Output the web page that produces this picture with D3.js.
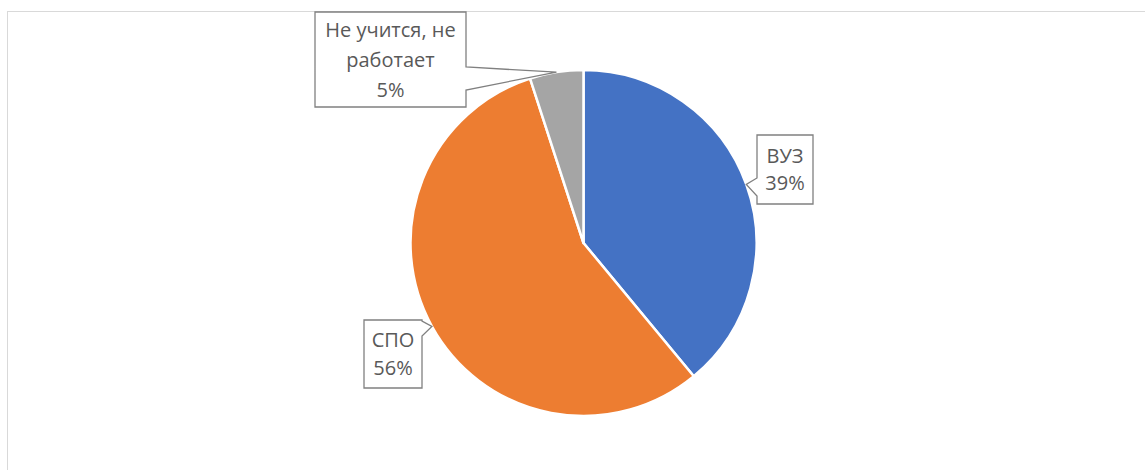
<!DOCTYPE html>
<html>
<head>
<meta charset="utf-8">
<script src="https://cdn.jsdelivr.net/npm/d3@7"></script>
<style>
  body { margin: 0; background: #fff; }
  svg { display: block; }
</style>
</head>
<body>
<svg id="chart" width="1145" height="470"></svg>
<script>
// data
const categories = ["ВУЗ", "СПО", "Не учится, не работает"];
const values = [39, 56, 5];
const colors = ["#4472c4", "#ed7d31", "#a5a5a5"];
// label text lines (category wrapped + percent)
const labelLines = [["ВУЗ"], ["СПО"], ["Не учится, не", "работает"]];

const svg = d3.select("#chart");
const cx = 583.5, cy = 243, radius = 173;

// chart frame (cut off at right/bottom like the source)
svg.append("rect")
  .attr("x", 7.5).attr("y", 11.5)
  .attr("width", 1200).attr("height", 500)
  .attr("fill", "none")
  .attr("stroke", "#d9d9d9");

const pie = d3.pie().sort(null).value(d => d)(values);
const arc = d3.arc().innerRadius(0).outerRadius(radius);

const g = svg.append("g").attr("transform", `translate(${cx},${cy})`);
g.selectAll("path.slice")
  .data(pie)
  .enter()
  .append("path")
  .attr("class", "slice")
  .attr("d", arc)
  .attr("fill", (d, i) => colors[i])
  .attr("stroke", "#fff")
  .attr("stroke-width", 2.5)
  .attr("stroke-linejoin", "round");

// callout layout: box rect, side of wedge, wedge base span
const layout = [
  { x0: 757, y0: 135, x1: 813, y1: 204, side: "left", w0: 178, w1: 196, lh: 27 },
  { x0: 364, y0: 320, x1: 422, y1: 388, side: "right", w0: 321, w1: 336, lh: 28 },
  { x0: 315, y0: 12, x1: 466, y1: 107, side: "right", w0: 67, w1: 90, lh: 30 },
];

function calloutPath(b, tx, ty) {
  const p = [];
  p.push([b.x0, b.y0]);
  p.push([b.x1, b.y0]);
  if (b.side === "right") {
    p.push([b.x1, b.w0], [tx, ty], [b.x1, b.w1]);
  }
  p.push([b.x1, b.y1]);
  p.push([b.x0, b.y1]);
  if (b.side === "left") {
    p.push([b.x0, b.w1], [tx, ty], [b.x0, b.w0]);
  }
  return "M" + p.map(q => q.join(",")).join("L") + "Z";
}

const fmt = d3.format(".0%");
const total = d3.sum(values);

pie.forEach((d, i) => {
  const b = layout[i];
  const mid = (d.startAngle + d.endAngle) / 2;
  const tx = cx + radius * Math.sin(mid);
  const ty = cy - radius * Math.cos(mid);

  svg.append("path")
    .attr("d", calloutPath(b, tx, ty))
    .attr("fill", "#fff")
    .attr("stroke", "#808080")
    .attr("stroke-width", 1.3);

  const lines = labelLines[i].concat([fmt(d.data / total)]);
  const midX = (b.x0 + b.x1) / 2;
  const midY = (b.y0 + b.y1) / 2;
  const text = svg.append("text")
    .attr("text-anchor", "middle")
    .attr("font-family", "'Open Sans', sans-serif")
    .attr("font-size", "20px")
    .attr("fill", "#595959");
  lines.forEach((t, k) => {
    text.append("tspan")
      .attr("x", midX)
      .attr("y", midY + (k - (lines.length - 1) / 2) * b.lh + 7)
      .text(t);
  });
});
</script>
</body>
</html>
